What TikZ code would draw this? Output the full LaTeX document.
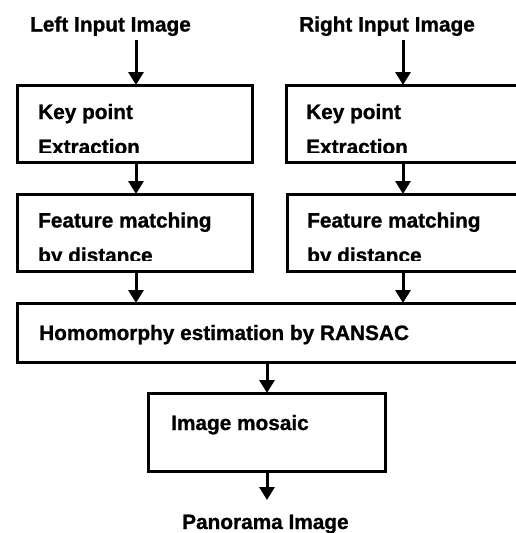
\documentclass[tikz,border=0pt]{standalone}
\usepackage{fontspec}
\setmainfont{Liberation Sans}[BoldFeatures={FakeBold=1}]
\usetikzlibrary{arrows.meta}
\begin{document}
\begin{tikzpicture}[x=1pt,y=-1pt,
  box/.style={draw,line width=3pt,inner sep=0pt,outer sep=0pt,anchor=north west},
  lbl/.style={anchor=base west,inner sep=0pt,font=\fontsize{20.8}{22}\selectfont\bfseries},
  arr/.style={line width=3pt,-{Triangle[length=13pt,width=15pt]}}]
\useasboundingbox (0,0) rectangle (516,533);
\clip (0,0) rectangle (516,533);
% titles
\node[lbl] (tl) at (30,31.5) {Left Input Image};
\node[lbl] (tr) at (299,31.5) {Right Input Image};
\coordinate (al) at (136,40);
\coordinate (ar) at (403,40);
% boxes
\node[box,minimum width=235pt,minimum height=77pt] (kpL) at (17,85) {};
\node[box,minimum width=250pt,minimum height=77pt] (kpR) at (286,85) {};
\node[box,minimum width=235pt,minimum height=77pt] (fmL) at (17,194) {};
\node[box,minimum width=250pt,minimum height=77pt] (fmR) at (287,194) {};
\node[box,minimum width=520pt,minimum height=59pt] (hom) at (17,303) {};
\node[box,minimum width=237pt,minimum height=78pt] (mos) at (148,393) {};
% texts in boxes (clipped like the original)
\begin{scope}
\clip (17,85) rectangle (516,152);
\node[lbl] (kpL1) at (38,119) {Key point};
\node[lbl] (kpL2) at (38,154) {Extraction};
\node[lbl] (kpR1) at (306,119) {Key point};
\node[lbl] (kpR2) at (306,154) {Extraction};
\end{scope}
\begin{scope}
\clip (17,194) rectangle (516,260.5);
\node[lbl] (fmL1) at (38,227.5) {Feature matching};
\node[lbl] (fmL2) at (38,262.5) {by distance};
\node[lbl] (fmR1) at (307,227.5) {Feature matching};
\node[lbl] (fmR2) at (307,262.5) {by distance};
\end{scope}
\node[lbl] (homt) at (39,340) {Homomorphy estimation by RANSAC};
\node[lbl] (most) at (171,430) {Image mosaic};
\node[lbl] (pan) at (182,529) {Panorama Image};
\coordinate (ap) at (267,500);
% connectors
\draw[arr] (al) -- (al |- kpL.north);
\draw[arr] (ar) -- (ar |- kpR.north);
\draw[arr] (al |- kpL.south) -- (al |- fmL.north);
\draw[arr] (ar |- kpR.south) -- (ar |- fmR.north);
\draw[arr] (al |- fmL.south) -- (al |- hom.north);
\draw[arr] (ar |- fmR.south) -- (ar |- hom.north);
\draw[arr] (ap |- hom.south) -- (ap |- mos.north);
\draw[arr] (ap |- mos.south) -- (ap);
\end{tikzpicture}
\end{document}
